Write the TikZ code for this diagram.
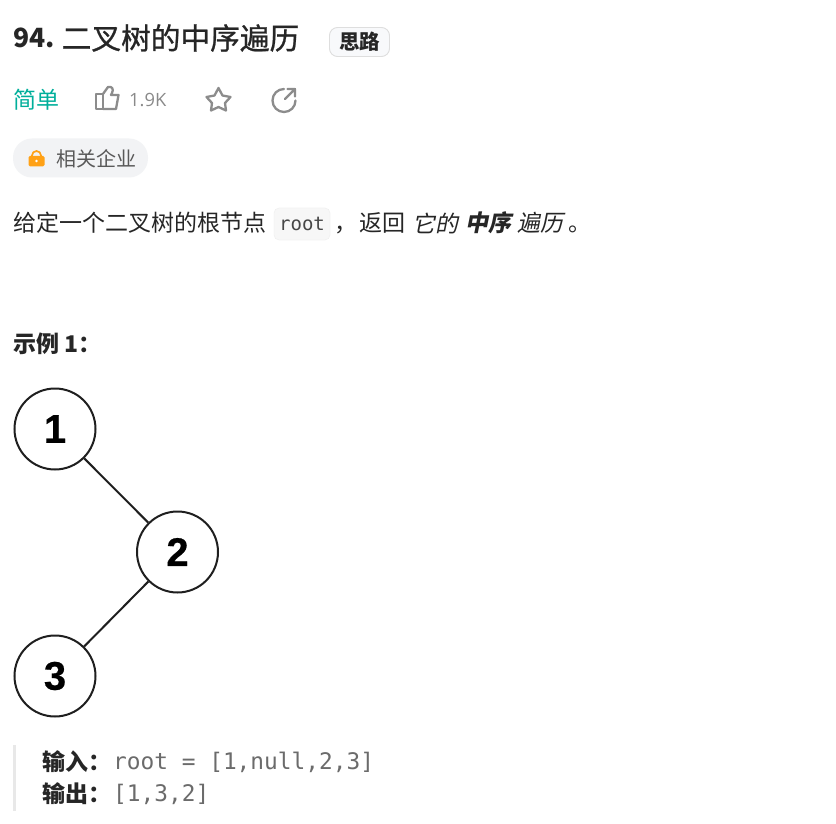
\documentclass[tikz,border=0pt]{standalone}
\usepackage{fontspec}
\setmainfont{Noto Sans CJK SC}
\setmonofont{DejaVu Sans Mono}
\newfontfamily\latinf{Open Sans}
\newfontfamily\arialf[FakeBold=0.5]{Liberation Sans Bold}
\newfontfamily\titlef[FakeBold=0.8]{Noto Sans CJK SC}
\definecolor{ink}{HTML}{262626}
\definecolor{grayt}{HTML}{8A8A8A}
\definecolor{teal1}{HTML}{00AF9B}
\definecolor{chipbg}{HTML}{F2F3F5}
\definecolor{hintbg}{HTML}{F8F9FB}
\definecolor{codebg}{HTML}{F7F7F7}
\definecolor{lockc}{HTML}{FFA116}
\definecolor{iconc}{HTML}{8C8C8C}
\newcommand{\st}{\vphantom{中}}
\tikzset{
 txt/.style={anchor=west,inner sep=0pt,text=ink},
 tree/.style={circle,draw=black!88,line width=2pt,minimum size=81pt,inner sep=0pt,fill=white,font=\arialf\fontsize{40}{40}\selectfont},
 edge/.style={draw=black!88,line width=2pt},
 icon/.style={draw=iconc,line width=2.3pt,line join=round,line cap=round}
}
\begin{document}
\begin{tikzpicture}[x=1pt,y=-1pt]
\useasboundingbox (0,0) rectangle (836,824);
\fill[white] (0,0) rectangle (836,824);
\node[txt,font=\bfseries\fontsize{26.5}{26.5}\selectfont] (num) at (13,38) {94.};
\node[txt,font=\titlef\fontsize{29.7}{29.7}\selectfont] (title) at (61.5,38) {二叉树的中序遍历};
\node[draw=black!13,fill=hintbg,rounded corners=8pt,line width=0.9pt,minimum width=60pt,minimum height=29pt,inner sep=0pt,font=\bfseries\fontsize{20.5}{20.5}\selectfont,text=ink] (hint) at (359.5,42) {思路};
\node[txt,text=teal1,font=\fontsize{23}{23}\selectfont] (easy) at (13,100) {简单};
% thumb
\draw[icon] (96,94) rectangle (103,109);
\draw[icon] (103,94) -- (108,87) .. controls (112,86) and (114,89) .. (112,93) -- (111,95) -- (118.5,95) -- (116,109) -- (103,109);
\node[txt,text=grayt,font=\latinf\fontsize{18.3}{18.3}\selectfont] (likes) at (129,100) {1.9K};
\draw[icon] (218.5,88) -- (222.5,95.5) -- (230.5,97) -- (225,103) -- (226,110.5) -- (218.5,107) -- (211,110.5) -- (212,103) -- (206.5,97) -- (214.5,95.5) -- cycle;
\draw[icon] (284,89) arc[start angle=-90,end angle=-360,radius=11.5];
\draw[icon] (285,99) -- (295,89) (287.5,89) -- (295,89) -- (295,96.5);
\node[fill=chipbg,rounded corners=19pt,minimum width=135pt,minimum height=39pt,inner sep=0pt] (chip) at (80.5,158) {};
\draw[lockc,line width=1.7pt] (32,157) -- (32,155.5) arc[start angle=180,end angle=360,radius=4.5] -- (41,157);
\fill[lockc,rounded corners=1.5pt] (28.5,156) rectangle (44.5,166.5);
\fill[white] (36.5,161) circle[radius=1.4pt];
\node[txt,text=black!65,font=\fontsize{20}{20}\selectfont] (company) at (56,159) {相关企业};
\node[txt,font=\fontsize{23}{23}\selectfont] (l1) at (13,223) {给定一个二叉树的根节点};
\node[draw=black!7,fill=codebg,rounded corners=5pt,minimum width=56pt,minimum height=32pt,inner sep=0pt,font=\ttfamily\fontsize{19}{19}\selectfont,text=ink!85] (root) at (302,224) {root};
\node[txt,font=\fontsize{23}{23}\selectfont] (l2) at (334,223) {\st，};
\node[txt,font=\fontsize{23}{23}\selectfont] (l3) at (359,223) {返回};
\node[txt,font=\fontsize{23}{23}\selectfont] (l4) at (412,223) {\addfontfeature{FakeSlant=0.2}它的};
\node[txt,font=\bfseries\fontsize{23}{23}\selectfont] (l5) at (465,223) {\addfontfeature{FakeSlant=0.2}中序};
\node[txt,font=\fontsize{23}{23}\selectfont] (l6) at (517,223) {\addfontfeature{FakeSlant=0.2}遍历};
\node[txt,font=\fontsize{23}{23}\selectfont] (l7) at (568,223) {\st。};
\node[txt,font=\bfseries\fontsize{23}{23}\selectfont] (ex) at (13,344) {示例 1：};
\node[tree] (n1) at (55,429) {1};
\node[tree] (n2) at (177.5,552) {2};
\node[tree] (n3) at (55,676) {3};
\draw[edge] (n1) -- (n2);
\draw[edge] (n2) -- (n3);
\fill[black!9] (13,745) rectangle (16,811);
\node[txt,font=\bfseries\fontsize{23}{23}\selectfont] (inl) at (42,762) {输入：};
\node[txt,text=black!58,font=\ttfamily\fontsize{22.8}{22.8}\selectfont] (inv) at (113,762) {root = [1,null,2,3]};
\node[txt,font=\bfseries\fontsize{23}{23}\selectfont] (outl) at (42,794) {输出：};
\node[txt,text=black!58,font=\ttfamily\fontsize{22.8}{22.8}\selectfont] (outv) at (113,794) {[1,3,2]};
\end{tikzpicture}
\end{document}
